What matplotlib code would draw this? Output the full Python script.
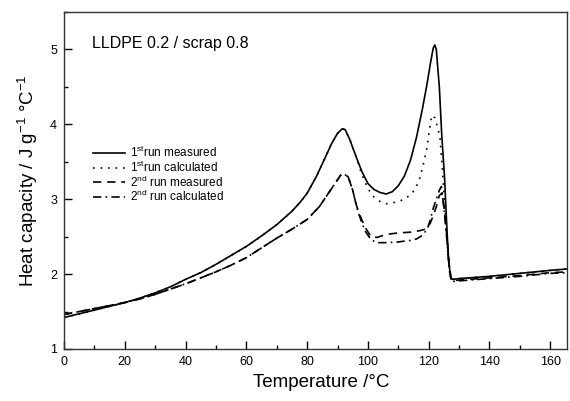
import matplotlib
matplotlib.use("Agg")
import matplotlib.pyplot as plt
from matplotlib.ticker import MultipleLocator

plt.rcParams['font.family'] = ['Liberation Sans', 'DejaVu Sans']
plt.rcParams['mathtext.fontset'] = 'custom'
plt.rcParams['mathtext.rm'] = 'Liberation Sans'
plt.rcParams['mathtext.it'] = 'Liberation Sans:italic'
plt.rcParams['mathtext.bf'] = 'Liberation Sans:bold'

# 1st run measured
x1m = [0, 5, 10, 15, 20, 25, 30, 35, 40, 45, 50, 55, 60, 65, 70, 75, 77.5, 80, 83, 86, 88, 90,
       91.5, 92.5, 94, 96, 98, 100, 102, 104, 106, 108, 110, 112, 114, 116, 118, 119.5,
       120.5, 121.5, 122, 122.5, 123.5, 124.3, 125.2, 126, 126.6, 127.3, 128, 130, 140,
       150, 160, 166]
y1m = [1.42, 1.47, 1.52, 1.57, 1.62, 1.68, 1.75, 1.83, 1.93, 2.02, 2.13, 2.25, 2.37, 2.51,
       2.66, 2.84, 2.95, 3.08, 3.30, 3.56, 3.74, 3.88, 3.94, 3.93, 3.80, 3.58, 3.37, 3.21, 3.13,
       3.09, 3.07, 3.10, 3.18, 3.31, 3.52, 3.83, 4.22, 4.55, 4.80, 5.02, 5.06, 5.00, 4.50,
       3.85, 3.30, 2.60, 2.15, 1.94, 1.93, 1.94, 1.97, 2.01, 2.05, 2.07]

# 1st run calculated
x1c = [0, 5, 10, 15, 20, 25, 30, 35, 40, 45, 50, 55, 60, 65, 70, 75, 77.5, 80, 83, 86, 88, 90,
       91.5, 92.5, 94, 96, 98, 100, 102, 104, 106, 108, 110, 112, 114, 115.5, 117, 118.2,
       119.3, 120.2, 121, 122, 123, 123.7, 124.5, 125.3, 126.3, 127.3, 128, 130, 140, 150,
       160, 166]
y1c = [1.42, 1.47, 1.52, 1.57, 1.62, 1.68, 1.75, 1.83, 1.93, 2.02, 2.13, 2.25, 2.37, 2.51,
       2.66, 2.84, 2.95, 3.08, 3.30, 3.56, 3.74, 3.88, 3.94, 3.93, 3.80, 3.58, 3.33, 3.14, 3.03,
       2.97, 2.94, 2.95, 2.97, 3.00, 3.06, 3.13, 3.27, 3.46, 3.66, 3.92, 4.12, 4.09, 3.95,
       3.83, 3.40, 2.90, 2.30, 1.94, 1.93, 1.94, 1.97, 2.01, 2.05, 2.07]

# 2nd run measured
x2m = [0, 5, 10, 15, 20, 25, 30, 35, 40, 45, 50, 55, 60, 65, 70, 75, 80, 84, 87, 89, 91,
       92, 93.5, 95, 96, 97, 99, 101, 103, 106, 110, 114, 117, 119, 120.5, 121.5, 122.5,
       123.5, 124.3, 125, 126, 126.8, 127.5, 130, 140, 150, 160, 166]
y2m = [1.46, 1.50, 1.54, 1.58, 1.62, 1.67, 1.73, 1.80, 1.87, 1.95, 2.03, 2.12, 2.22, 2.35,
       2.48, 2.60, 2.73, 2.90, 3.08, 3.20, 3.32, 3.34, 3.30, 3.12, 2.95, 2.82, 2.63, 2.50,
       2.49, 2.53, 2.55, 2.56, 2.58, 2.60, 2.68, 2.78, 2.90, 3.05, 3.08, 2.90, 2.50, 2.10,
       1.91, 1.92, 1.95, 1.98, 2.02, 2.03]

# 2nd run calculated
x2c = [0, 5, 10, 15, 20, 25, 30, 35, 40, 45, 50, 55, 60, 65, 70, 75, 80, 84, 87, 89, 91,
       92, 93.5, 95, 96, 97, 99, 101, 103, 106, 110, 114, 116, 118, 119.5, 120.5, 121.5,
       122.5, 123.5, 124.2, 125, 126, 126.8, 127.5, 130, 140, 150, 160, 166]
y2c = [1.46, 1.50, 1.54, 1.58, 1.62, 1.67, 1.73, 1.80, 1.87, 1.95, 2.03, 2.12, 2.22, 2.35,
       2.48, 2.60, 2.73, 2.90, 3.08, 3.20, 3.32, 3.34, 3.30, 3.12, 2.95, 2.80, 2.58, 2.46,
       2.42, 2.42, 2.43, 2.45, 2.47, 2.52, 2.60, 2.72, 2.88, 3.00, 3.12, 3.17, 2.90, 2.45,
       2.05, 1.90, 1.91, 1.94, 1.97, 2.01, 2.02]

labels = ["1$^{\\rm st}$run measured", "1$^{\\rm st}$run calculated",
          "2$^{\\rm nd}$ run measured", "2$^{\\rm nd}$ run calculated"]
xticks = [0, 20, 40, 60, 80, 100, 120, 140, 160]
yticks = [1, 2, 3, 4, 5]

fig = plt.figure(figsize=(5.7, 4.01), dpi=100)
ax = fig.add_axes([0.1123, 0.1297, 0.8824, 0.8403])

lw = 1.2
ax.plot(x1m, y1m, color='black', lw=lw, linestyle='-', label=labels[0])
ax.plot(x1c, y1c, color='black', lw=lw, linestyle=(0, (1, 3.5)), label=labels[1])
ax.plot(x2m, y2m, color='black', lw=lw, linestyle=(0, (5, 3.5)), label=labels[2])
ax.plot(x2c, y2c, color='black', lw=lw, linestyle=(0, (5, 2.5, 1, 2.5)), label=labels[3])

ax.set_xlim(0, 165.5)
ax.set_ylim(1, 5.5)
ax.set_xticks(xticks)
ax.set_yticks(yticks)
ax.xaxis.set_minor_locator(MultipleLocator(10))
ax.yaxis.set_minor_locator(MultipleLocator(0.5))
ax.tick_params(which='both', direction='in', top=False, right=False, labelsize=9,
               width=1.0, pad=5)
ax.tick_params(which='major', length=6)
ax.tick_params(which='minor', length=3)
for s in ax.spines.values():
    s.set_linewidth(1.0)
    s.set_color('#333333')

ax.set_xlabel("Temperature /°C", fontsize=13.5, labelpad=5)
ax.xaxis.set_label_coords(0.512, -0.075)
ax.set_ylabel("Heat capacity / J g$^{-1}$ °C$^{-1}$", fontsize=13.5, labelpad=7)

ax.text(0.056, 0.908, "LLDPE 0.2 / scrap 0.8", transform=ax.transAxes, fontsize=11.5,
        ha='left', va='center')

ax.legend(loc='upper left', bbox_to_anchor=(0.058, 0.605), frameon=False, fontsize=8.5,
          handlelength=2.7, handletextpad=0.4, labelspacing=-0.05, borderpad=0,
          borderaxespad=0)

fig.savefig("out.png", dpi=100)
